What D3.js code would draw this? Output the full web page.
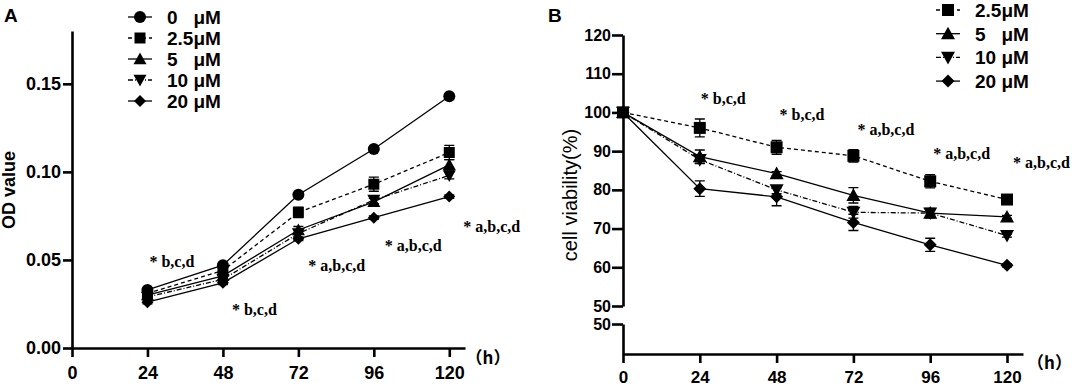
<!DOCTYPE html>
<html lang="en">
<head>
<meta charset="UTF-8" />
<title>OD value and cell viability</title>
<script src="https://cdn.jsdelivr.net/npm/d3@7"></script>
<style>
  body { margin: 0; background: #fff; }
  svg { display: block; font-family: "Liberation Sans", Arial, sans-serif; }
  .axis path, .axis line { stroke: #000; stroke-width: 2.6; }
  .axis text { font-weight: bold; fill: #000; }
  .note { font-family: "Liberation Serif", "Times New Roman", serif; font-weight: bold; font-size: 16px; fill: #000; }
  .hr { font-family: "Noto Sans CJK SC", sans-serif; font-size: 17px; font-weight: bold; }
</style>
</head>
<body>
<script>
// ---- panel A: OD value ----
var hoursA = [24, 48, 72, 96, 120];
var od0  = [0.033, 0.047, 0.087, 0.113, 0.143];
var od25 = [0.031, 0.044, 0.077, 0.093, 0.111];
var od5  = [0.030, 0.041, 0.067, 0.083, 0.104];
var od10 = [0.029, 0.039, 0.065, 0.084, 0.098];
var od20 = [0.026, 0.037, 0.062, 0.074, 0.086];
var err0  = [0.001, 0.001, 0.001, 0.001, 0.001];
var err25 = [0.001, 0.002, 0.003, 0.004, 0.004];
var err5  = [0.001, 0.001, 0.002, 0.002, 0.003];
var err10 = [0.001, 0.001, 0.002, 0.002, 0.002];
var err20 = [0.001, 0.001, 0.001, 0.001, 0.001];
var ticksXA = [0, 24, 48, 72, 96, 120];
var ticksYA = [0, 0.05, 0.10, 0.15];
var notesA = ["* b,c,d", "* b,c,d", "* a,b,c,d", "* a,b,c,d", "* a,b,c,d"];
var notesAy = [0.049, 0.022, 0.047, 0.058, 0.069];

// ---- panel B: cell viability ----
var hoursB = [0, 24, 48, 72, 96, 120];
var via25 = [100, 96.0, 91.0, 88.8, 82.2, 77.5];
var via5  = [100, 88.6, 84.2, 78.6, 74.0, 73.0];
var via10 = [100, 87.8, 80.0, 74.2, 74.0, 68.2];
var via20 = [100, 80.3, 78.2, 71.6, 65.8, 60.5];
var verr25 = [0, 2.3, 1.8, 1.6, 1.7, 0.4];
var verr5  = [0, 1.7, 0.5, 2.0, 1.2, 0.4];
var verr10 = [0, 1.0, 1.0, 1.5, 0.8, 0.4];
var verr20 = [0, 2.0, 2.3, 2.1, 1.7, 0.4];
var ticksXB = [0, 24, 48, 72, 96, 120];
var ticksYB = [50, 60, 70, 80, 90, 100, 110, 120];
var notesB = ["* b,c,d", "* b,c,d", "* a,b,c,d", "* a,b,c,d", "* a,b,c,d"];
var notesBy = [103.5, 99.6, 95.7, 89.3, 87.2];

var svg = d3.select("body").append("svg").attr("width", 1072).attr("height", 386);

function marker(g, shape, s) {
  var h = s / 2;
  if (shape == "circle") return g.append("circle").attr("r", h);
  var d;
  if (shape == "square") d = "M" + (-h) + "," + (-h) + "H" + h + "V" + h + "H" + (-h) + "Z";
  if (shape == "triangle") d = "M0," + (-h) + "L" + h + "," + (h * 0.8) + "H" + (-h) + "Z";
  if (shape == "down") d = "M0," + h + "L" + h + "," + (-h * 0.8) + "H" + (-h) + "Z";
  if (shape == "diamond") d = "M0," + (-h) + "L" + h + ",0L0," + h + "L" + (-h) + ",0Z";
  return g.append("path").attr("d", d);
}

function drawSeries(g, x, y, hours, vals, errs, s) {
  var pts = hours.map(function(h, i) { return [x(h), y(vals[i]), errs[i], vals[i]]; });
  g.append("path")
    .attr("d", d3.line()(pts.map(function(p) { return [p[0], p[1]]; })))
    .attr("fill", "none").attr("stroke", "#000").attr("stroke-width", 1.3)
    .attr("stroke-dasharray", s.dash);
  pts.forEach(function(p) {
    if (p[2] > 0) {
      var y1 = y(p[3] + p[2]), y2 = y(p[3] - p[2]);
      g.append("path")
        .attr("d", "M" + p[0] + "," + y1 + "V" + y2 + "M" + (p[0] - 5) + "," + y1 + "H" + (p[0] + 5) + "M" + (p[0] - 5) + "," + y2 + "H" + (p[0] + 5))
        .attr("stroke", "#000").attr("stroke-width", 1.3).attr("fill", "none");
    }
    var m = g.append("g").attr("transform", "translate(" + p[0] + "," + p[1] + ")");
    marker(m, s.shape, s.size).attr("fill", "#000");
  });
}

function drawLegend(g, x0, y0, dy, list) {
  list.forEach(function(s, i) {
    var row = g.append("g").attr("transform", "translate(" + x0 + "," + (y0 + i * dy) + ")");
    row.append("line").attr("x1", -12).attr("x2", 12).attr("stroke", "#000").attr("stroke-width", 1.3)
      .attr("stroke-dasharray", s.dash);
    marker(row.append("g"), s.shape, s.size).attr("fill", "#000");
    row.append("text").attr("x", 27).attr("dy", "0.36em")
      .style("white-space", "pre").style("font-size", "19px").style("font-weight", "bold")
      .text(s.label);
  });
}

// ===== Panel A =====
var xA = d3.scaleLinear().domain([0, 125]).range([72, 465]);
var yA = d3.scaleLinear().domain([0, 0.18]).range([348, 31]);
var gA = svg.append("g");

var seriesA = [
  {label: "0   μM", vals: od0, errs: err0, shape: "circle", dash: null, size: 12},
  {label: "2.5μM", vals: od25, errs: err25, shape: "square", dash: "4,3", size: 11},
  {label: "5   μM", vals: od5, errs: err5, shape: "triangle", dash: null, size: 13},
  {label: "10 μM", vals: od10, errs: err10, shape: "down", dash: "5,2,1,2", size: 13},
  {label: "20 μM", vals: od20, errs: err20, shape: "diamond", dash: null, size: 12}
];
seriesA.slice().reverse().forEach(function(s) { drawSeries(gA, xA, yA, hoursA, s.vals, s.errs, s); });

gA.append("g").attr("class", "axis").attr("transform", "translate(72,0)")
  .call(d3.axisLeft(yA).tickValues(ticksYA).tickFormat(d3.format(".2f")).tickSize(9).tickSizeOuter(0).tickPadding(2))
  .selectAll("text").style("font-size", "18px");
gA.append("g").attr("class", "axis").attr("transform", "translate(0,348)")
  .call(d3.axisBottom(xA).tickValues(ticksXA).tickSize(9).tickSizeOuter(0).tickPadding(9))
  .selectAll("text").style("font-size", "18px");

gA.selectAll(".noteA").data(notesA).enter().append("text").attr("class", "note")
  .attr("x", function(d, i) { return xA(hoursA[i]) + [2, 9, 10, 11, 14][i]; })
  .attr("y", function(d, i) { return yA(notesAy[i]); })
  .attr("dy", "0.35em").text(function(d) { return d; });

gA.append("text").attr("transform", "translate(15,190) rotate(-90)")
  .attr("text-anchor", "middle").style("font-size", "18px").style("font-weight", "bold").text("OD value");
gA.append("text").attr("class", "hr").attr("x", 488).attr("y", 364).attr("text-anchor", "middle").text("（h）");
gA.append("text").attr("x", 4).attr("y", 22).style("font-size", "19px").style("font-weight", "bold").text("A");

drawLegend(gA, 140, 17, 21, seriesA);

// ===== Panel B =====
var xB = d3.scaleLinear().domain([0, 125]).range([623, 1023]);
var yB = d3.scaleLinear().domain([50, 120]).range([306, 35]);
var yB2 = d3.scaleLinear().domain([42.3, 50]).range([354, 324]);
var gB = svg.append("g");

var seriesB = [
  {label: "2.5μM", vals: via25, errs: verr25, shape: "square", dash: "4,3", size: 12},
  {label: "5   μM", vals: via5, errs: verr5, shape: "triangle", dash: null, size: 14},
  {label: "10 μM", vals: via10, errs: verr10, shape: "down", dash: "5,2,1,2", size: 14},
  {label: "20 μM", vals: via20, errs: verr20, shape: "diamond", dash: null, size: 13}
];
seriesB.slice().reverse().forEach(function(s) { drawSeries(gB, xB, yB, hoursB, s.vals, s.errs, s); });

gB.append("g").attr("class", "axis").attr("transform", "translate(623,0)")
  .call(d3.axisLeft(yB).tickValues(ticksYB).tickSize(11).tickSizeOuter(0).tickPadding(1))
  .selectAll("text").style("font-size", "16px");
gB.append("g").attr("class", "axis").attr("transform", "translate(623,0)")
  .call(d3.axisLeft(yB2).tickValues([50]).tickSize(11).tickSizeOuter(0).tickPadding(1))
  .selectAll("text").style("font-size", "16px");
gB.append("g").attr("class", "axis").attr("transform", "translate(0,354)")
  .call(d3.axisBottom(xB).tickValues(ticksXB).tickSize(9).tickSizeOuter(0).tickPadding(8))
  .selectAll("text").style("font-size", "17px");

gB.selectAll(".noteB").data(notesB).enter().append("text").attr("class", "note")
  .attr("x", function(d, i) { return xB(hoursB[i + 1]) + [1, 3, 4, 3, 6][i]; })
  .attr("y", function(d, i) { return yB(notesBy[i]); })
  .attr("dy", "0.35em").text(function(d) { return d; });

gB.append("text").attr("transform", "translate(577,195) rotate(-90)")
  .attr("text-anchor", "middle").style("font-size", "20px").text("cell viability(%)");
gB.append("text").attr("class", "hr").attr("x", 1072).attr("y", 369).attr("text-anchor", "end").text("（h）");
gB.append("text").attr("x", 548).attr("y", 22).style("font-size", "19px").style("font-weight", "bold").text("B");

drawLegend(gB, 948, 10, 23.7, seriesB);
</script>
</body>
</html>
